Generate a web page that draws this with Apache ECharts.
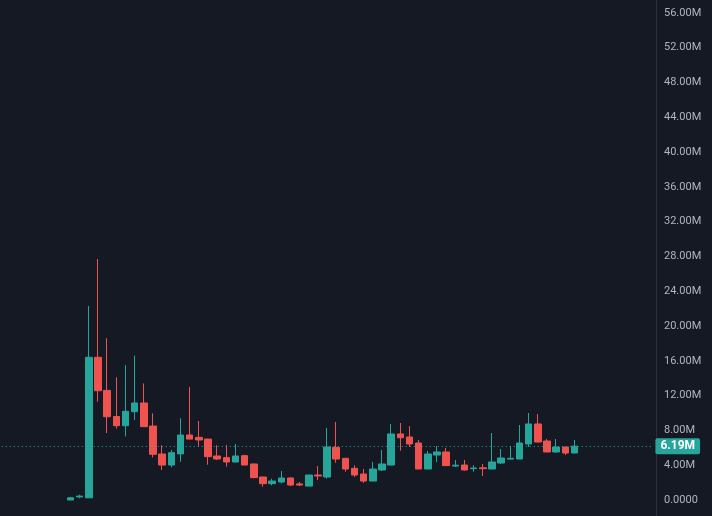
<!DOCTYPE html>
<html>
<head>
<meta charset="utf-8">
<script src="https://cdn.jsdelivr.net/npm/echarts@6/dist/echarts.min.js"></script>
<style>
html,body{margin:0;padding:0;background:#151924;}
#c{width:712px;height:516px;}
</style>
</head>
<body>
<div id="c"></div>
<script>
// values in millions
var opens  = [0.00,0.35,0.25,16.4,12.6,9.6,8.54,10.15,11.15,8.5,5.29,4.02,5.3,7.47,7.2,7.0,5.06,4.87,4.37,5.1,4.14,2.64,1.88,2.07,2.53,1.85,1.6,2.87,2.64,6.05,4.79,3.64,2.99,2.18,3.45,4.02,7.59,7.24,6.55,3.56,5.17,5.52,3.9,4.02,3.6,3.7,3.56,4.25,4.7,4.71,6.44,8.74,6.78,5.52,6.09,5.4];
var closes = [0.25,0.45,16.4,12.56,9.57,8.54,10.2,11.15,8.43,5.25,4.02,5.44,7.47,7.0,6.9,4.98,4.71,4.37,5.06,4.02,2.57,1.88,2.18,2.53,1.72,1.72,2.87,2.76,6.1,4.71,3.56,2.87,2.18,3.56,4.14,7.59,7.16,6.44,3.56,5.29,5.52,3.95,4.0,3.45,3.68,3.6,4.37,4.83,4.79,6.55,8.74,6.67,5.52,6.09,5.4,6.19];
var lows   = [0.00,0.20,0.25,11.3,7.7,8.2,7.3,9.2,8.4,4.9,3.45,3.76,4.4,7.0,6.13,4.06,4.6,3.83,4.3,4.0,2.5,1.53,1.69,1.92,1.6,1.6,1.6,2.3,2.45,4.29,3.25,2.64,1.95,2.18,3.33,4.0,5.67,6.09,3.56,3.56,4.37,3.95,3.8,3.37,3.25,2.76,3.56,4.14,4.68,4.71,6.09,6.6,5.5,5.4,5.17,5.4];
var highs  = [0.35,0.60,22.3,27.7,18.6,14.1,15.5,16.6,13.4,9.96,6.3,5.75,9.4,13.0,9.08,7.05,6.3,6.32,6.44,5.2,4.2,2.7,2.45,3.33,2.6,2.07,2.9,3.9,8.28,8.97,4.85,3.99,3.56,4.37,5.75,8.74,8.85,8.5,6.9,5.63,6.2,5.98,4.6,4.6,4.0,4.14,7.7,5.86,6.2,8.62,10.0,9.88,7.0,7.01,6.09,6.9];
var yTicks = [0,4,8,12,16,20,24,28,32,36,40,44,48,52,56];
var lastPrice = 6.19;
var padLeft = 7, padRight = 8;

var categories = [];
var candles = [];
var total = padLeft + opens.length + padRight;
for (var i = 0; i < total; i++) {
  categories.push(String(i));
  var k = i - padLeft;
  if (k >= 0 && k < opens.length) {
    candles.push([opens[k], closes[k], lows[k], highs[k]]);
  } else {
    candles.push('-');
  }
}

var chart = echarts.init(document.getElementById('c'));
chart.setOption({
  backgroundColor: '#151924',
  animation: false,
  grid: { left: 1.77, right: 59.6, top: 12.8, bottom: 16 },
  xAxis: {
    type: 'category',
    data: categories,
    show: false,
    boundaryGap: true
  },
  yAxis: {
    type: 'value',
    position: 'right',
    offset: 3.6,
    min: yTicks[0],
    max: yTicks[yTicks.length - 1],
    interval: 4,
    axisLine: { show: false },
    axisTick: { show: false },
    splitLine: { show: false },
    axisLabel: {
      color: '#b2b5be',
      fontSize: 11,
      fontFamily: 'Roboto',
      margin: 8,
      formatter: function (v) { return v === 0 ? '0.0000' : v.toFixed(2) + 'M'; }
    }
  },
  graphic: [{
    type: 'line',
    shape: { x1: 656.5, y1: 0, x2: 656.5, y2: 516 },
    style: { stroke: '#2a2e39', lineWidth: 1 },
    silent: true
  }],
  series: [{
    type: 'candlestick',
    data: candles,
    barWidth: 7,
    itemStyle: {
      color: '#26a69a',
      color0: '#ef5350',
      borderColor: '#26a69a',
      borderColor0: '#ef5350',
      borderWidth: 1
    },
    markLine: {
      silent: true,
      symbol: ['none', 'none'],
      data: [{ yAxis: lastPrice }],
      lineStyle: { color: '#26a69a', type: [1, 3], width: 1 },
      label: {
        show: true,
        position: 'end',
        distance: 3,
        formatter: lastPrice.toFixed(2) + 'M',
        color: '#ffffff',
        backgroundColor: '#26a69a',
        fontFamily: 'Roboto',
        fontWeight: 'bold',
        fontSize: 12,
        lineHeight: 14,
        padding: [1, 5, 1, 5],
        borderRadius: 2
      }
    }
  }]
});
</script>
</body>
</html>
